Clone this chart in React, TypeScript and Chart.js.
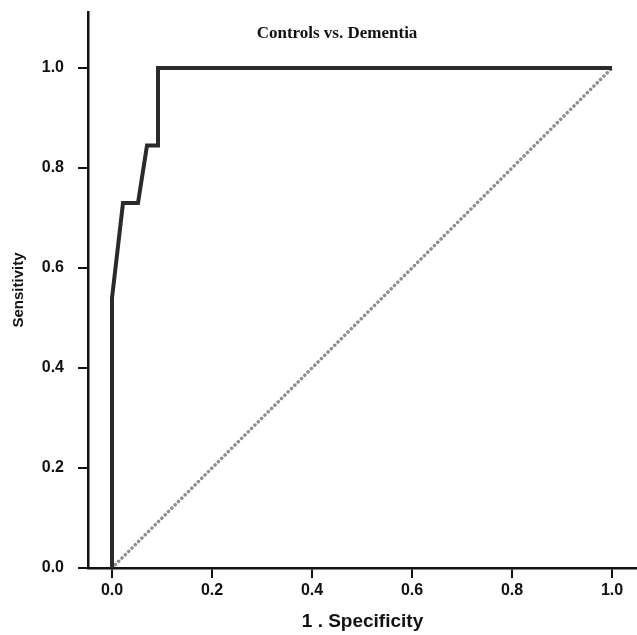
import React, { useEffect, useRef } from "react";
import { Chart, registerables } from "chart.js";

Chart.register(...registerables);

const chartTitle = "Controls vs. Dementia";
const xAxisTitle = "1 . Specificity";
const yAxisTitle = "Sensitivity";
const tickValues = [0, 0.2, 0.4, 0.6, 0.8, 1.0];

const rocX = [0, 0, 0.022, 0.052, 0.07, 0.092, 0.092, 1.0];
const rocY = [0, 0.54, 0.73, 0.73, 0.845, 0.845, 1.0, 1.0];

const refX = [0, 1];
const refY = [0, 1];

const titlePlugin = {
  id: "innerTitle",
  afterDraw(chart: any) {
    const { ctx } = chart;
    const xs = chart.scales.x;
    ctx.save();
    ctx.font = "bold 17px 'Liberation Serif', serif";
    ctx.fillStyle = "#111";
    ctx.textAlign = "center";
    ctx.textBaseline = "middle";
    ctx.fillText(chartTitle, xs.getPixelForValue(0.45), chart.chartArea.top + 22);
    ctx.restore();
  },
};

export default function App() {
  const ref = useRef<HTMLCanvasElement>(null);
  useEffect(() => {
    if (!ref.current) return;
    const tickFont = { family: "'Liberation Sans', Arial, sans-serif", size: 16, weight: "bold" as const };
    const chart = new Chart(ref.current, {
      type: "line",
      data: {
        datasets: [
          {
            data: rocX.map((x, i) => ({ x, y: rocY[i] })),
            borderColor: "#2a2a2a",
            borderWidth: 4,
            pointRadius: 0,
            tension: 0,
            fill: false,
            borderJoinStyle: "miter",
          },
          {
            data: refX.map((x, i) => ({ x, y: refY[i] })),
            borderColor: "#8f8f8f",
            borderWidth: 3.5,
            borderDash: [0.1, 4.6],
            borderCapStyle: "round",
            pointRadius: 0,
            fill: false,
          },
        ],
      },
      options: {
        animation: false,
        responsive: false,
        layout: { padding: { top: 12, left: 0, right: 0, bottom: 0 } },
        plugins: { legend: { display: false }, tooltip: { enabled: false }, title: { display: false } },
        scales: {
          x: {
            type: "linear",
            min: -0.048,
            max: 1.05,
            afterBuildTicks: (s: any) => {
              s.ticks = tickValues.map((v) => ({ value: v }));
            },
            afterFit: (s: any) => {
              s.height = 67;
              s.paddingLeft = 0;
              s.paddingRight = 0;
            },
            ticks: {
              font: tickFont,
              color: "#111",
              padding: 3,
              maxRotation: 0,
              callback: (v: any) => Number(v).toFixed(1),
            },
            grid: { drawOnChartArea: false, drawTicks: true, tickLength: 10, color: "#111", lineWidth: 2 },
            border: { display: true, color: "#111", width: 2.5 },
            title: {
              display: true,
              text: xAxisTitle,
              font: { family: "'Liberation Sans', Arial, sans-serif", size: 19, weight: "bold" },
              color: "#111",
              padding: { top: 0, bottom: 2 },
            },
          },
          y: {
            type: "linear",
            min: 0,
            max: 1.112,
            afterBuildTicks: (s: any) => {
              s.ticks = tickValues.map((v) => ({ value: v }));
            },
            afterFit: (s: any) => {
              s.width = 88;
              s.paddingTop = 0;
              s.paddingBottom = 0;
            },
            ticks: {
              font: tickFont,
              color: "#111",
              padding: 14,
              callback: (v: any) => Number(v).toFixed(1),
            },
            grid: { drawOnChartArea: false, drawTicks: true, tickLength: 10, color: "#111", lineWidth: 2 },
            border: { display: true, color: "#111", width: 2.5 },
            title: {
              display: true,
              text: yAxisTitle,
              font: { family: "'Liberation Sans', Arial, sans-serif", size: 15, weight: "bold" },
              color: "#111",
              padding: { top: 10, bottom: 0 },
            },
          },
        },
      },
      plugins: [titlePlugin],
    });
    return () => chart.destroy();
  }, []);
  return (
    <div style={{ position: "absolute", left: 0, top: 0, width: 637, height: 635, background: "#fff" }}>
      <canvas ref={ref} width={637} height={635} style={{ width: 637, height: 635 }} />
    </div>
  );
}
